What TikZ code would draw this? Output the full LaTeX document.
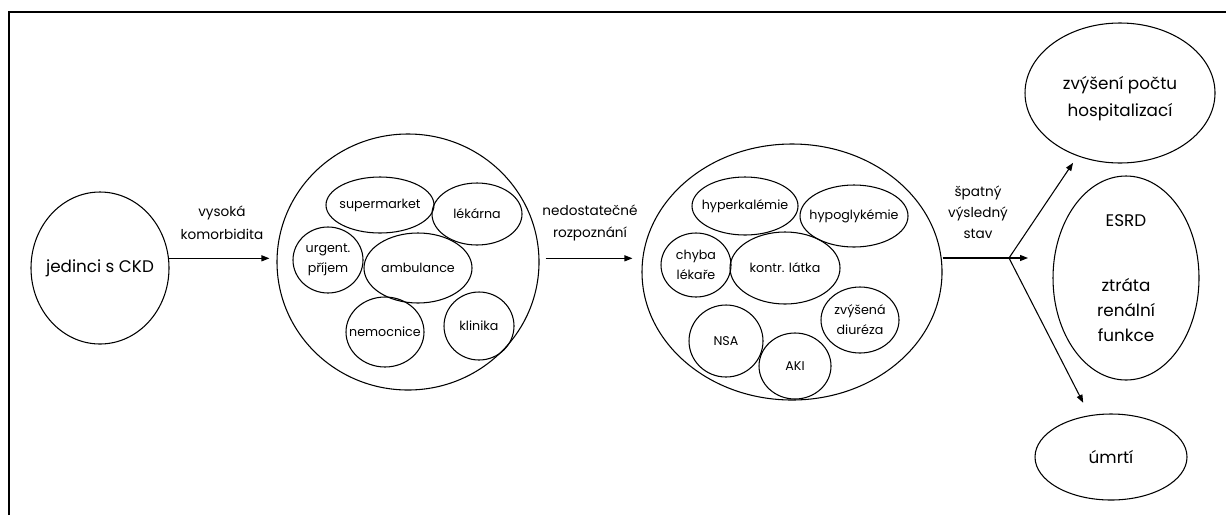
\documentclass[tikz,border=0pt]{standalone}
\usepackage{fontspec}
\setmainfont{Poppins}
\usetikzlibrary{shapes.geometric,arrows.meta}
\begin{document}
\begin{tikzpicture}[x=0.75pt,y=-0.75pt,
  oval/.style 2 args={ellipse, draw, line width=0.8pt, inner sep=0pt,
    minimum width=#1*1.5pt, minimum height=#2*1.5pt},
  lg/.style={font=\fontsize{12.6}{18.75}\selectfont, align=center, inner sep=0pt},
  sm/.style={font=\fontsize{9.5}{15}\selectfont, align=center, inner sep=0pt},
  lab/.style={font=\fontsize{10.2}{17}\selectfont, align=center, inner sep=0pt},
  arr/.style={-{Triangle[length=6pt,width=4.5pt]}, line width=0.8pt}]
\useasboundingbox (0,0) rectangle (1226,515);
% open frame: top and left edges only
\draw[line width=1.5pt] (9,515) -- (9,12) -- (1226,12);

% starting population
\node[oval={69}{76}, label={[lg]center:jedinci s CKD}] (ckd) at (100,268) {};

% settings of care
\node[oval={131}{128}] (c1) at (408,262) {};
\node[oval={54}{28}, label={[sm]center:supermarket}] (sup) at (380,205) {};
\node[oval={45}{31}, label={[sm]center:lékárna}] (lek) at (477,214) {};
\node[oval={35}{33}, label={[sm]center:{urgent.\\příjem}}] (urg) at (328,260) {};
\node[oval={54}{35}, label={[sm]center:ambulance}] (amb) at (418,268) {};
\node[oval={39}{35}, label={[sm]center:nemocnice}] (nem) at (385,332) {};
\node[oval={35}{34}, label={[sm]center:klinika}] (kli) at (479,326) {};

% adverse events
\node[oval={150}{128}] (c2) at (792,272) {};
\node[oval={53}{29}, label={[sm]center:hyperkalémie}] (hyper) at (745,206) {};
\node[oval={54}{31}, label={[sm]center:hypoglykémie}] (hypo) at (854,216) {};
\node[oval={35}{32}, label={[sm]center:{chyba\\lékaře}}] (chyba) at (696,265) {};
\node[oval={55}{36}, label={[sm]center:kontr. látka}] (kontr) at (785,268) {};
\node[oval={39}{33}, label={[sm]center:{zvýšená\\diuréza}}] (diur) at (860,320) {};
\node[oval={37}{36}, label={[sm]center:NSA}] (nsa) at (726,341) {};
\node[oval={36}{33}, label={[sm]center:AKI}] (aki) at (795,366) {};

% outcomes
\node[oval={95}{70}, label={[lg,yshift=-4.5pt]center:{zvýšení počtu\\[1.5pt]hospitalizací}}] (hosp) at (1120,93) {};
\node[oval={73}{102}, label={[lg]center:{ESRD\\[30pt]ztráta\\renální\\funkce}}] (esrd) at (1126,278) {};
\node[oval={76}{43}, label={[lg]center:úmrtí}] (death) at (1111,457) {};

% transitions
\node[lab] (t1) at (222,223) {vysoká\\komorbidita};
\node[lab] (t2) at (590,223) {nedostatečné\\rozpoznání};
\node[lab, font=\fontsize{10.2}{15.75}\selectfont] (t3) at (978,212) {špatný\\výsledný\\stav};

\draw[arr, shorten >=5.25pt] (ckd.8) -- (c1.west |- ckd.8);
\draw[arr, shorten <=4.5pt, shorten >=6.75pt] (c1.east |- ckd.8) -- (c2.west |- ckd.8);
\coordinate (fork) at (1009,258);
\coordinate (forkend) at (1028,258);
\draw[arr] (c2.east |- fork) -- (forkend);
\draw[arr, shorten >=6pt] (fork) -- (hosp);
\draw[arr, shorten >=10.5pt] (fork) -- (death);
\end{tikzpicture}
\end{document}
